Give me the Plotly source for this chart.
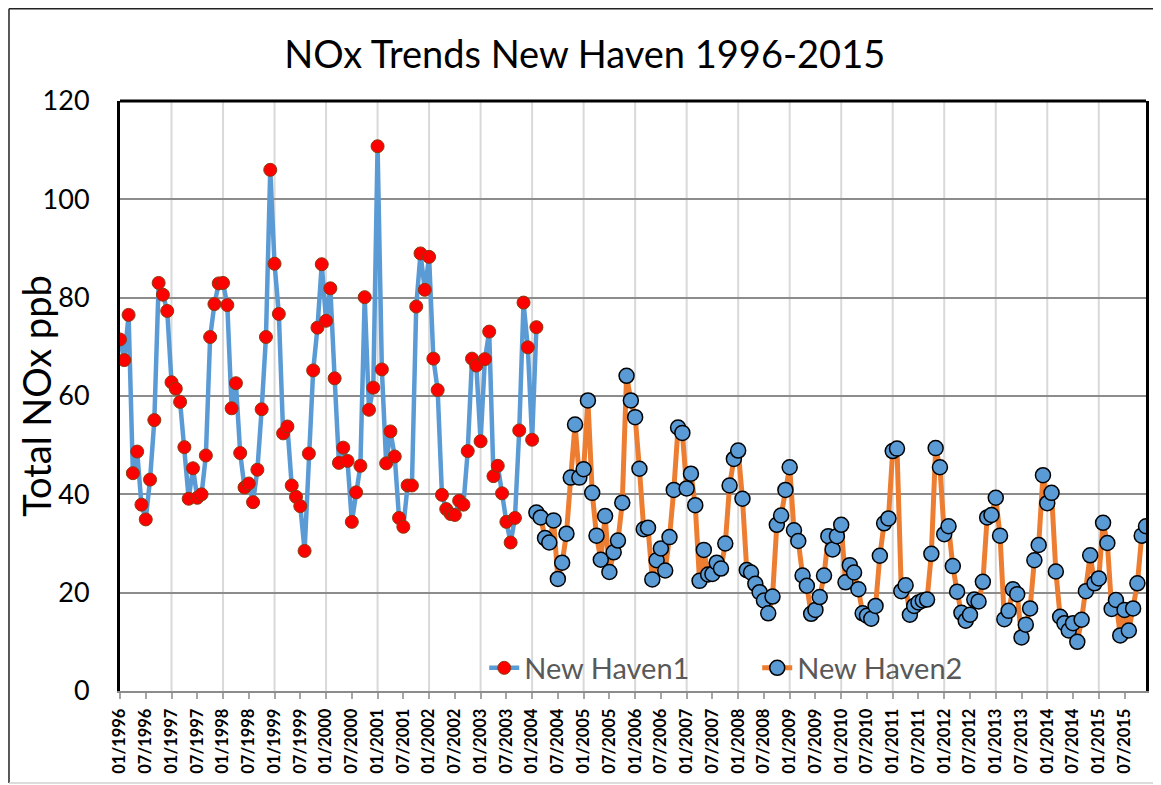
import plotly.graph_objects as go

# ---- data ----
years = list(range(1996, 2016))
months = [f"{m:02d}/{y}" for y in years for m in range(1, 13)]
tick_labels = [f"{m:02d}/{y}" for y in years for m in (1, 7)]
grid_months = [f"01/{y}" for y in years[1:]]

new_haven1 = [
    71.5, 67.3, 76.5, 44.3, 48.7, 37.9, 34.9, 43.0, 55.1, 83.0, 80.6, 77.3,
    62.8, 61.5, 58.8, 49.6, 39.1, 45.3, 39.3, 40.0, 47.9, 72.0, 78.7, 82.9,
    83.0, 78.5, 57.5, 62.6, 48.4, 41.4, 42.2, 38.4, 45.0, 57.3, 72.0, 106.0,
    86.9, 76.7, 52.4, 53.8, 41.8, 39.5, 37.6, 28.5, 48.3, 65.2, 73.9, 86.8,
    75.3, 81.9, 63.6, 46.4, 49.5, 46.8, 34.4, 40.4, 45.8, 80.1, 57.2, 61.7,
    110.8, 65.4, 46.3, 52.8, 47.7, 35.2, 33.4, 41.8, 41.8, 78.2, 89.0, 81.6,
    88.3, 67.6, 61.2, 39.9, 37.0, 36.0, 35.8, 38.7, 37.9, 48.8, 67.6, 66.2,
    50.8, 67.5, 73.1, 43.7, 45.8, 40.2, 34.4, 30.2, 35.2, 53.0, 79.0, 69.9,
    51.1, 74.0,
]
new_haven1_months = months[:len(new_haven1)]

new_haven2 = [
    36.3, 35.3, 31.1, 30.2, 34.7, 22.8, 26.1, 32.0, 43.4, 54.2, 43.4,
    45.1, 59.1, 40.3, 31.6, 26.7, 35.6, 24.2, 28.2, 30.6, 38.3, 64.1, 59.1,
    55.7, 45.2, 32.9, 33.2, 22.7, 26.6, 29.0, 24.5, 31.3, 40.9, 53.6, 52.5,
    41.2, 44.2, 37.8, 22.4, 28.7, 23.7, 23.8, 26.1, 24.9, 30.0, 41.8, 47.2,
    48.9, 39.1, 24.6, 24.1, 21.8, 20.1, 18.4, 15.8, 19.2, 33.8, 35.7, 40.9,
    45.5, 32.7, 30.5, 23.5, 21.4, 15.7, 16.5, 19.1, 23.5, 31.5, 28.8, 31.5,
    33.8, 22.1, 25.6, 24.1, 20.7, 15.8, 15.3, 14.7, 17.3, 27.5, 34.1, 35.1,
    48.8, 49.3, 20.3, 21.5, 15.5, 17.3, 18.0, 18.4, 18.6, 27.9, 49.4, 45.5,
    31.9, 33.5, 25.4, 20.2, 15.9, 14.3, 15.5, 18.6, 18.2, 22.2, 35.3, 35.8,
    39.3, 31.6, 14.6, 16.3, 20.7, 19.7, 10.9, 13.5, 16.8, 26.6, 29.7, 43.9,
    38.2, 40.3, 24.3, 15.1, 13.8, 12.3, 13.8, 10.0, 14.5, 20.3, 27.6, 21.9,
    22.9, 34.2, 30.1, 16.7, 18.5, 11.3, 16.5, 12.3, 16.8, 21.9, 31.6, 33.5,
]
new_haven2_months = months[len(months) - len(new_haven2):]

y_ticks = [0, 20, 40, 60, 80, 100, 120]

FONT = "Lato"

fig = go.Figure()
fig.add_trace(go.Scatter(
    x=new_haven1_months, y=new_haven1, name="New Haven1",
    mode="lines+markers",
    line=dict(color="#5B9BD5", width=4.5),
    marker=dict(color="#FF0000", size=13, line=dict(color="#8B3A0F", width=1)),
))
fig.add_trace(go.Scatter(
    x=new_haven2_months, y=new_haven2, name="New Haven2",
    mode="lines+markers",
    line=dict(color="#ED7D31", width=5),
    marker=dict(color="#5B9BD5", size=15, line=dict(color="#000000", width=1.5)),
))

shapes = []
for gm in grid_months:
    shapes.append(dict(type="line", xref="x", yref="paper", x0=gm, x1=gm, y0=0, y1=1,
                       line=dict(color="#D9D9D9", width=2), layer="below"))
# plot-area top border
shapes.append(dict(type="line", xref="paper", yref="paper", x0=0, x1=1, y0=1, y1=1,
                   line=dict(color="#000000", width=3)))
# outer chart frame
fx0, fx1, fy0, fy1 = -0.1082, 1.0117, -0.156, 1.1565
shapes.append(dict(type="line", xref="paper", yref="paper", x0=fx0, x1=fx0, y0=fy0, y1=fy1,
                   line=dict(color="#222222", width=1.5)))
shapes.append(dict(type="line", xref="paper", yref="paper", x0=fx0, x1=fx1, y0=fy1, y1=fy1,
                   line=dict(color="#222222", width=1.5)))
shapes.append(dict(type="line", xref="paper", yref="paper", x0=fx1, x1=fx1, y0=fy0, y1=fy1,
                   line=dict(color="#222222", width=1.5)))
shapes.append(dict(type="line", xref="paper", yref="paper", x0=fx0, x1=fx1, y0=fy0, y1=fy0,
                   line=dict(color="#D0D0D0", width=1.5)))

fig.update_layout(
    width=1153, height=777,
    margin=dict(l=112, r=15, t=93, b=94),
    paper_bgcolor="white", plot_bgcolor="white",
    font=dict(family=FONT, color="#000000"),
    title=dict(text="NOx Trends New Haven 1996-2015", font=dict(family=FONT, size=38, color="#000000"),
               xref="paper", x=0.453, xanchor="center", yref="container", y=0.9395, yanchor="middle"),
    xaxis=dict(
        type="category", categoryorder="array", categoryarray=months,
        range=[0, len(months) - 1],
        tickmode="array", tickvals=tick_labels, ticktext=tick_labels,
        tickangle=-90, tickfont=dict(family=FONT, size=16.5, color="#000000", weight="bold"),
        ticks="outside", ticklen=6, tickwidth=1.5, tickcolor="#A6A6A6",
        ticklabelstandoff=3,
        showgrid=False, showline=True, linecolor="#8C8C8C", linewidth=2,
        zeroline=False,
    ),
    yaxis=dict(
        range=[0, 120], tickmode="array", tickvals=y_ticks,
        tickfont=dict(family=FONT, size=27, color="#000000"),
        showgrid=True, gridcolor="#8C8C8C", gridwidth=1.5,
        showline=True, linecolor="#000000", linewidth=3, mirror=True,
        ticks="", ticklabelstandoff=22, zeroline=False,
    ),
    legend=dict(orientation="h", x=0.355, xanchor="left", y=0.039, yanchor="middle",
                bgcolor="rgba(0,0,0,0)", font=dict(family=FONT, size=29, color="#595959"),
                entrywidth=228, entrywidthmode="pixels"),
    shapes=shapes,
    annotations=[dict(text="Total NOx ppb", xref="paper", yref="paper", x=-0.082, y=0.5,
                      xanchor="center", yanchor="middle", textangle=-90, showarrow=False,
                      font=dict(family=FONT, size=38, color="#000000"))],
)

fig.write_html("out.html")
